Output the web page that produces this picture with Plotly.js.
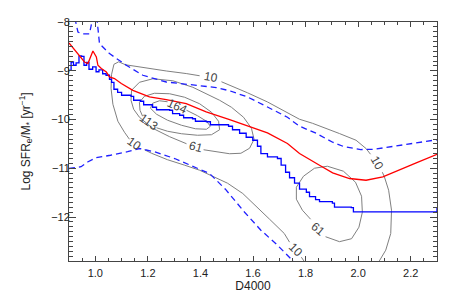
<!DOCTYPE html>
<html><head><meta charset="utf-8">
<script src="https://cdn.plot.ly/plotly-3.0.1.min.js"></script>
<style>html,body{margin:0;padding:0;background:#fff}</style>
</head><body><div id="chart" style="width:458px;height:305px"></div>
<script>
// red median line
const redX = [0.900,0.940,0.959,0.972,0.991,1.004,1.010,1.023,1.042,1.054,1.073,1.099,1.143,1.206,1.270,1.346,1.422,1.511,1.554,1.655,1.731,1.777,1.853,1.903,1.967,2.030,2.094,2.157,2.221,2.300];
const redY = [-8.430,-8.682,-8.820,-8.852,-8.594,-8.717,-8.887,-8.955,-9.025,-9.127,-9.160,-9.262,-9.400,-9.537,-9.590,-9.672,-9.844,-10.000,-10.082,-10.275,-10.492,-10.697,-10.936,-11.094,-11.209,-11.244,-11.176,-11.039,-10.889,-10.711];
// blue step line
const blueX = [0.900,0.908,0.917,0.927,0.938,0.948,0.957,0.967,0.976,0.990,1.003,1.014,1.028,1.041,1.054,1.062,1.071,1.085,1.100,1.136,1.146,1.172,1.184,1.218,1.233,1.283,1.294,1.321,1.336,1.370,1.381,1.423,1.438,1.507,1.522,1.549,1.574,1.599,1.617,1.630,1.655,1.693,1.707,1.724,1.739,1.758,1.777,1.803,1.815,1.838,1.853,1.902,1.910,1.974,1.982,2.294,2.300];
const blueY = [-8.990,-8.820,-8.887,-8.836,-8.693,-8.703,-8.887,-8.826,-8.969,-8.918,-9.020,-8.980,-9.061,-9.092,-9.174,-9.236,-9.379,-9.441,-9.502,-9.523,-9.604,-9.625,-9.697,-9.748,-9.799,-9.809,-9.877,-9.912,-9.963,-9.984,-10.035,-10.045,-10.107,-10.137,-10.209,-10.281,-10.363,-10.424,-10.547,-10.697,-10.766,-10.799,-10.936,-11.080,-11.193,-11.305,-11.428,-11.490,-11.582,-11.643,-11.684,-11.715,-11.797,-11.807,-11.893,-11.893,-11.797];
// blue dashed envelopes
const dashUpX = [0.914,0.934,0.947,0.978,0.992,1.005,1.016,1.054,1.118,1.181,1.270,1.371,1.460,1.511,1.579,1.655,1.731,1.777,1.840,1.903,1.947,2.010,2.061,2.137,2.213,2.300];
const dashUpY = [-7.719,-8.205,-8.242,-8.242,-7.863,-7.863,-8.443,-8.648,-8.887,-9.092,-9.230,-9.297,-9.344,-9.410,-9.537,-9.742,-9.953,-10.137,-10.281,-10.465,-10.557,-10.615,-10.609,-10.547,-10.480,-10.414];
const dashLoX = [0.900,0.946,0.971,1.003,1.058,1.123,1.168,1.225,1.302,1.378,1.435,1.495,1.568,1.630,1.693,1.752,1.770];
const dashLoY = [-11.004,-10.967,-10.869,-10.783,-10.732,-10.660,-10.594,-10.660,-10.799,-10.971,-11.107,-11.428,-11.900,-12.268,-12.576,-12.898,-13.000];
// density contours
const c10X = [1.807,1.784,null,1.739,1.719,1.663,1.613,1.561,1.503,1.447,1.397,1.340,1.275,1.214,1.187,null,1.130,1.111,1.086,1.067,1.060,1.062,1.071,1.089,1.115,1.168,1.270,1.346,1.397,null,1.480,1.503,1.579,1.655,1.731,1.777,1.826,1.883,1.929,1.992,2.030,2.047,null,2.092,2.100,2.116,2.127,2.124,2.105,2.080,2.070];
const c10Y = [-13.006,-12.822,null,-12.514,-12.336,-12.043,-11.791,-11.516,-11.305,-11.162,-11.039,-10.936,-10.824,-10.691,-10.619,null,-10.404,-10.260,-10.035,-9.686,-9.359,-9.072,-8.867,-8.816,-8.877,-8.922,-9.004,-9.057,-9.102,null,-9.225,-9.277,-9.451,-9.639,-9.861,-9.994,-10.076,-10.184,-10.287,-10.424,-10.594,-10.711,null,-11.080,-11.176,-11.449,-11.859,-12.336,-12.678,-12.904,-12.986];
const c61aX = [1.412,1.460,1.511,1.554,1.587,1.604,1.594,1.564,1.518,1.473,1.422,1.371,1.295,1.219,1.168,1.138,1.136,1.146,1.168,1.218,1.283,1.347];
const c61aY = [-10.619,-10.660,-10.701,-10.691,-10.588,-10.404,-10.178,-9.953,-9.748,-9.605,-9.467,-9.338,-9.205,-9.164,-9.236,-9.400,-9.605,-9.789,-9.953,-10.178,-10.352,-10.496];
const c113X = [1.233,1.275,1.328,1.389,1.442,1.473,1.469,1.442,1.397,1.340,1.283,1.225,1.187,1.168,1.170,1.180];
const c113Y = [-10.168,-10.240,-10.291,-10.322,-10.311,-10.209,-10.035,-9.850,-9.676,-9.543,-9.471,-9.461,-9.523,-9.645,-9.809,-9.932];
const c164X = [1.347,1.389,1.423,1.438,1.423,1.381,1.328,1.275,1.233,1.210,1.218,1.244,1.275];
const c164Y = [-9.809,-9.922,-10.035,-10.137,-10.199,-10.189,-10.117,-10.014,-9.891,-9.768,-9.666,-9.615,-9.635];
const c61bX = [1.876,1.929,1.975,2.003,2.016,2.013,1.990,1.944,1.883,1.834,1.792,1.765,1.765,1.788,1.819];
const c61bY = [-12.402,-12.504,-12.443,-12.207,-11.900,-11.572,-11.285,-11.059,-10.957,-10.998,-11.162,-11.387,-11.633,-11.859,-12.043];
// contour labels
const labelText = ['10','10','10','10','164','113','61','61'];
const labelX = [1.149,1.440,2.072,1.764,1.309,1.203,1.385,1.847];
const labelY = [-10.506,-9.133,-10.895,-12.668,-9.727,-10.055,-10.568,-12.248];
const labelAngle = [35,10,60,45,25,35,15,40];
const yTitle = 'Log SFR<sub>e</sub>/M<sub>*</sub> [yr<sup>−1</sup>]';

const FONT = 'Liberation Sans, Arial, sans-serif';
const gray = '#808080';
const contourStyle = {color: gray, width: 1};
function contour(x, y) {
  return {x, y, type: 'scatter', mode: 'lines', line: contourStyle, connectgaps: false, hoverinfo: 'skip', showlegend: false};
}
const traces = [
  contour(c10X, c10Y), contour(c61aX, c61aY), contour(c113X, c113Y), contour(c164X, c164Y), contour(c61bX, c61bY),
  {x: dashUpX, y: dashUpY, type: 'scatter', mode: 'lines', line: {color: '#1f1fff', width: 1.3, dash: '6px,4px'}, showlegend: false},
  {x: dashLoX, y: dashLoY, type: 'scatter', mode: 'lines', line: {color: '#1f1fff', width: 1.3, dash: '6px,4px'}, showlegend: false},
  {x: blueX, y: blueY, type: 'scatter', mode: 'lines', line: {color: '#0000ff', width: 1.3, shape: 'hv'}, showlegend: false},
  {x: redX, y: redY, type: 'scatter', mode: 'lines', line: {color: '#ff0000', width: 1.3}, showlegend: false}
];
const annotations = labelText.map((t, i) => ({
  x: labelX[i], y: labelY[i], text: t, showarrow: false, textangle: labelAngle[i],
  font: {family: FONT, size: 12, color: '#444'}
}));
// y axis title as a rotated annotation, positioned in pixels from the left edge of the plot
annotations.push({
  xref: 'paper', yref: 'paper', x: 0, y: 0.5, xanchor: 'right', yanchor: 'middle', xshift: -33,
  text: yTitle, textangle: -90, showarrow: false,
  font: {family: FONT, size: 12, color: '#222'}
});
const axisCommon = {
  showgrid: false, zeroline: false, showline: true, linecolor: '#444', linewidth: 1,
  ticks: 'inside', mirror: 'allticks', tickcolor: '#444', tickwidth: 1,
  tickfont: {family: FONT, size: 11, color: '#222'}
};
const layout = {
  width: 458, height: 305,
  margin: {l: 69, r: 21, t: 22, b: 44},
  paper_bgcolor: '#fff', plot_bgcolor: '#fff',
  showlegend: false,
  annotations,
  xaxis: Object.assign({}, axisCommon, {
    range: [0.9, 2.3], dtick: 0.2, tick0: 0, tickformat: '.1f', ticklen: 5, ticklabelstandoff: 2,
    minor: {dtick: 0.05, ticklen: 3, ticks: 'inside', tickcolor: '#444'},
    title: {text: 'D4000', font: {family: FONT, size: 12, color: '#222'}, standoff: 1}
  }),
  yaxis: Object.assign({}, axisCommon, {
    range: [-12.9, -8], dtick: 1, tick0: 0, ticklen: 7, ticklabelstandoff: -4,
    minor: {dtick: 0.1, ticklen: 4, ticks: 'inside', tickcolor: '#444'}
  })
};
Plotly.newPlot('chart', traces, layout, {displayModeBar: false, staticPlot: true});
</script>
</body></html>
